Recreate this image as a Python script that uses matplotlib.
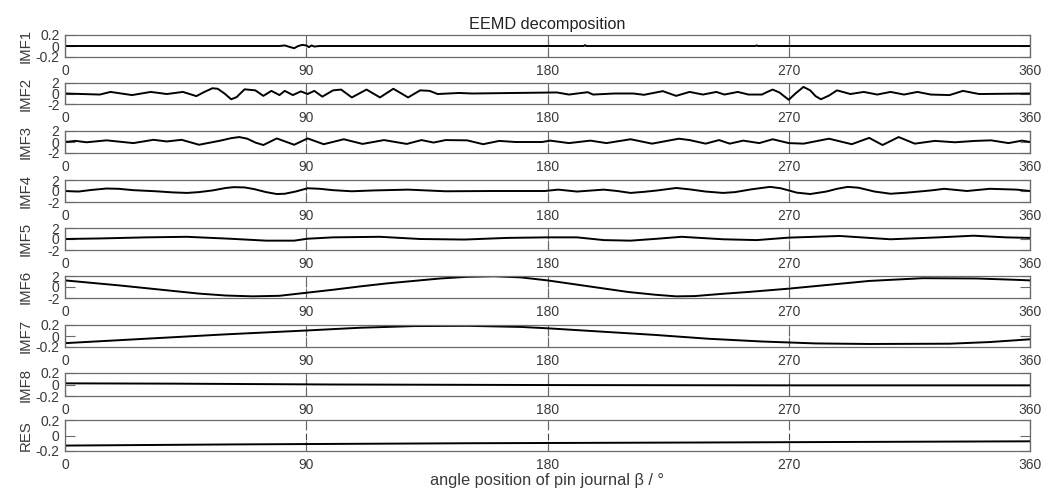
import matplotlib
matplotlib.use("Agg")
import matplotlib.pyplot as plt

plt.rcParams['font.family'] = ['Liberation Sans', 'DejaVu Sans']
plt.rcParams['axes.unicode_minus'] = False

# --- data (angle in degrees, value) ---
names = ['IMF1', 'IMF2', 'IMF3', 'IMF4', 'IMF5', 'IMF6', 'IMF7', 'IMF8', 'RES']

imf1_x = [0, 80, 82, 84, 85.5, 87, 88.5, 90, 91, 92, 93, 95, 193.5, 194, 194.5, 257.5, 258, 258.5, 360]
imf1_y = [0, 0, 0.01, -0.02, -0.04, 0.0, 0.02, 0.01, -0.02, 0.01, -0.01, 0, 0, 0.015, 0, 0, 0.01, 0, 0]

imf2_x = [0, 13, 17, 25, 32, 38, 44, 49, 52, 55, 57, 59.5, 62, 64, 67, 71, 74, 77, 80, 82, 85, 88,
          90.5, 93, 96, 100, 103, 107, 112.5, 117.5, 122.5, 128, 132.5, 136, 139, 147, 152, 183.5,
          188, 195, 197, 205, 212, 216, 223, 228, 233, 238, 243, 246, 251, 255, 260, 262, 264,
          266.5, 270, 272.5, 275.5, 278, 280, 282, 285, 288, 293, 298, 303, 308, 313, 318, 323,
          330, 335, 341, 360]
imf2_y = [0, -0.2, 0.3, -0.3, 0.3, -0.1, 0.3, -0.5, 0.3, 1.0, 0.9, 0, -1.1, -0.7, 0.8, 0.6, -0.45,
          0.5, -0.3, 0.5, -0.3, 0.4, -0.1, 0.5, -0.6, 0.6, 0.75, -0.75, 0.75, -0.75, 0.9, -0.75,
          0.6, 0.5, -0.1, 0.1, 0, 0.2, -0.2, 0.25, -0.2, 0, 0, -0.25, 0.45, -0.45, 0.3, -0.2, 0.3,
          -0.2, 0.3, -0.2, -0.2, 0.3, 0.75, 0.2, -1.2, 0, 1.25, 0.6, -0.5, -1.1, -0.4, 0.6, -0.1,
          0.3, -0.2, 0.3, -0.2, 0.3, -0.2, -0.3, 0.5, -0.1, 0]

imf3_x = [0, 4, 8, 15.5, 25.5, 33, 38, 43.5, 50, 58, 62, 65, 68, 71, 74, 79, 85.5, 90.5, 96.5,
          104, 111, 119, 127.5, 133, 137.5, 142, 150, 156, 162, 168, 178, 181, 188, 196, 202, 211,
          219, 229, 233, 239, 244, 248, 253, 259, 264, 270, 275.5, 285, 293.5, 300, 305, 311, 317,
          324.5, 332, 339.5, 345.5, 352, 357, 360]
imf3_y = [0, 0.2, -0.05, 0.3, -0.2, 0.4, 0.1, 0.4, -0.5, 0.25, 0.7, 0.9, 0.6, -0.1, -0.55, 0.65,
          -0.5, 0.65, -0.4, 0.5, -0.35, 0.35, -0.35, 0.35, -0.1, 0.35, 0.3, -0.4, 0.2, 0, 0, 0.25,
          -0.2, 0.25, -0.2, 0.5, -0.3, 0.6, 0.35, -0.3, 0.35, -0.3, 0.25, -0.2, 0.5, -0.2, -0.3,
          0.6, -0.4, 0.75, -0.55, 0.9, -0.3, 0.2, -0.05, 0.2, 0.3, -0.2, 0.25, 0]

imf4_x = [0, 5, 10, 15.5, 20, 25.5, 34, 40, 45.5, 50, 55, 60, 63, 67, 70.5, 75, 79, 82, 86, 90.5,
          95, 100, 107, 115, 128, 142, 160, 179, 184, 191, 201, 206, 211, 216, 221, 228, 233, 239,
          245.5, 250, 256, 263, 267, 270, 273, 278, 284, 288, 292, 296, 302, 308, 314, 323, 328,
          336.5, 345, 355, 360]
imf4_y = [0, -0.1, 0.2, 0.45, 0.4, 0.15, -0.05, -0.25, -0.35, -0.2, 0.1, 0.55, 0.7, 0.65, 0.35,
          -0.2, -0.55, -0.5, -0.1, 0.5, 0.4, 0.15, -0.05, 0.1, 0.25, -0.05, 0, 0, 0.25, -0.1, 0.25,
          0, -0.35, -0.15, 0.1, 0.55, 0.3, -0.1, -0.35, -0.2, 0.3, 0.75, 0.5, 0.1, -0.3, -0.55,
          -0.1, 0.4, 0.75, 0.6, -0.1, -0.5, -0.3, 0.1, 0.4, 0, 0.4, 0.25, 0]

imf5_x = [0, 13, 30.5, 45.5, 61.5, 75, 85.5, 90.5, 100, 117.5, 132.5, 149, 165, 180, 191, 201,
          211, 221, 230, 245.5, 258, 270, 289, 308, 326, 339, 351, 360]
imf5_y = [0, 0.1, 0.3, 0.4, 0.05, -0.3, -0.3, 0.05, 0.3, 0.4, 0, -0.1, 0.2, 0.3, 0.3, -0.2,
          -0.3, 0.05, 0.4, -0.05, -0.2, 0.25, 0.55, -0.05, 0.3, 0.6, 0.3, 0.2]

imf6_x = [0, 10, 20, 30, 40, 50, 60, 70, 80, 90, 100, 110, 120, 130, 140, 150, 160, 170, 180,
          190, 200, 210, 220, 228, 235, 245, 255, 270, 285, 300, 320, 340, 355, 360]
imf6_y = [1.2, 0.75, 0.3, -0.2, -0.7, -1.2, -1.55, -1.7, -1.6, -1.05, -0.5, 0.1, 0.65, 1.1,
          1.55, 1.85, 1.95, 1.75, 1.2, 0.5, -0.2, -0.9, -1.4, -1.7, -1.65, -1.25, -0.9, -0.3, 0.4,
          1.1, 1.6, 1.55, 1.3, 1.2]

imf7_x = [0, 30, 60, 90, 110, 130, 150, 170, 180, 200, 220, 240, 260, 280, 300, 330, 345, 360]
imf7_y = [-0.13, -0.05, 0.03, 0.1, 0.15, 0.18, 0.185, 0.165, 0.14, 0.08, 0.02, -0.05, -0.1,
          -0.135, -0.145, -0.14, -0.11, -0.06]

imf8_x = [0, 40, 100, 185, 270, 360]
imf8_y = [0.02, 0.015, 0.0, -0.01, -0.015, -0.015]

res_x = [0, 63, 150, 240, 335, 360]
res_y = [-0.13, -0.115, -0.1, -0.09, -0.078, -0.075]

series_x = [imf1_x, imf2_x, imf3_x, imf4_x, imf5_x, imf6_x, imf7_x, imf8_x, res_x]
series_y = [imf1_y, imf2_y, imf3_y, imf4_y, imf5_y, imf6_y, imf7_y, imf8_y, res_y]
y_limits = [0.2, 2, 2, 2, 2, 2, 0.2, 0.2, 0.2]
x_ticks = [0, 90, 180, 270, 360]

# --- layout in pixels (figure 1057 x 497) ---
W, H = 1057, 497
left_px, right_px = 65, 1030
tops_px = [35, 83, 131, 180, 228, 276, 325, 373, 420]
bottoms_px = [57, 104, 153, 202, 250, 298, 347, 396, 451]

fig = plt.figure(figsize=(W / 100, H / 100), dpi=100)
text_c = '#3a3a3a'
edge_c = '#6a6a6a'

for i, name in enumerate(names):
    ax = fig.add_axes([left_px / W, 1 - bottoms_px[i] / H,
                       (right_px - left_px) / W, (bottoms_px[i] - tops_px[i]) / H])
    ax.plot(series_x[i], series_y[i], color='black', lw=1.4)
    lim = y_limits[i]
    ax.set_xlim(0, 360)
    ax.set_ylim(-lim, lim)
    ax.set_xticks(x_ticks)
    ax.set_yticks([-lim, 0, lim])
    if lim < 1:
        ax.set_yticklabels(['-0.2', '0', '0.2'])
    else:
        ax.set_yticklabels(['-2', '0', '2'])
    ax.tick_params(direction='in', length=7, width=0.8, colors=edge_c, labelcolor=text_c,
                   labelsize=10, top=True, right=True)
    ax.tick_params(axis='x', pad=5)
    ax.tick_params(axis='y', pad=4)
    ax.grid(axis='x', color='#444444', lw=0.8, ls=(0, (6, 4)))
    for s in ax.spines.values():
        s.set_color(edge_c)
        s.set_linewidth(0.9)
    ax.set_ylabel(name, fontsize=10.8, color=text_c)
    ax.yaxis.set_label_coords(-(left_px - 33) / (right_px - left_px), 0.5)
    if i == 0:
        ax.set_title('EEMD decomposition', fontsize=11.7, color='#222222', pad=4)
    if i == len(names) - 1:
        ax.set_xlabel('angle position of pin journal β / °', fontsize=11.8, color=text_c,
                      labelpad=1)

fig.savefig('out.png', dpi=100)
